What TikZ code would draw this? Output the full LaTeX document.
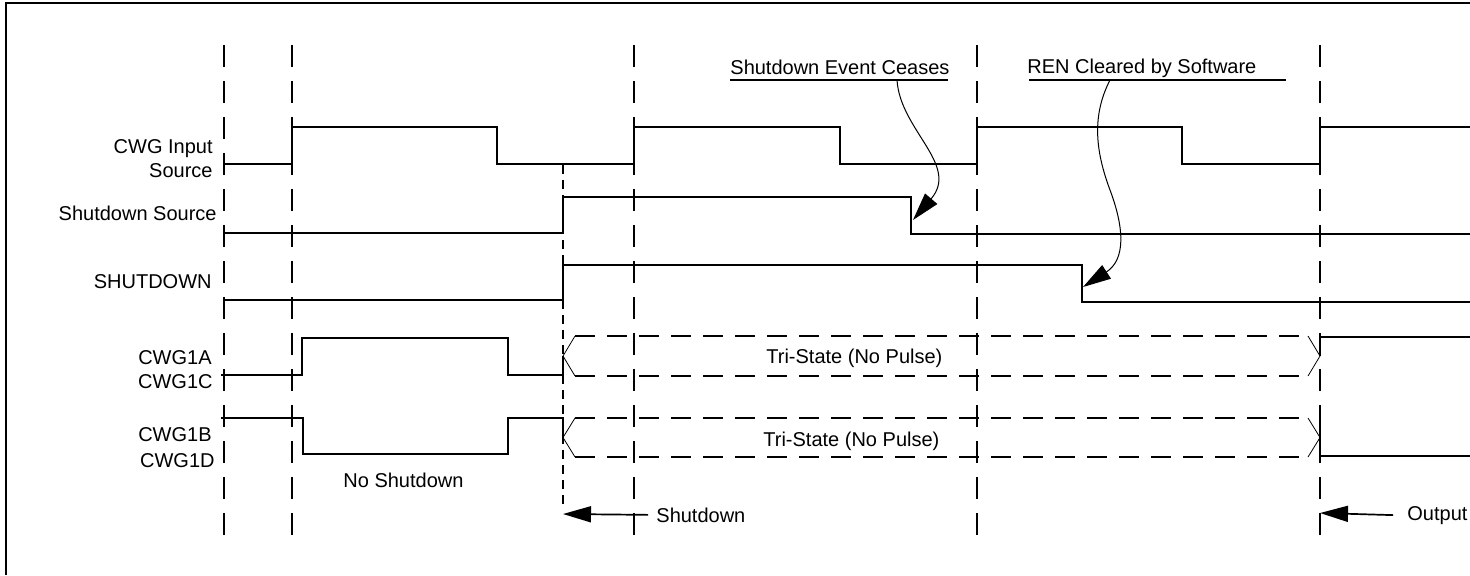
\documentclass[tikz,border=0pt]{standalone}
\usepackage{fontspec}
\setmainfont{Liberation Sans}
\usetikzlibrary{arrows.meta}

\begin{document}
\begin{tikzpicture}[x=0.5pt, y=-0.5pt, >={Triangle[length=14pt,width=8pt]},
		font=\fontsize{10}{12}\selectfont,
		sig/.style={line width=0.85pt},
		grid/.style={line width=0.85pt, dash pattern=on 11pt off 7pt},
		finegrid/.style={line width=0.8pt, dash pattern=on 4.5pt off 3pt},
		tri/.style={line width=0.75pt, dash pattern=on 10pt off 6pt},
		slant/.style={line width=0.4pt},
		note/.style={line width=0.5pt},
		lbl/.style={anchor=base east, inner sep=0pt},
		txt/.style={anchor=base west, inner sep=0pt}]
	\useasboundingbox (0,0) rectangle (1470,575);
	\draw[line width=1.1pt] (6,575) -- (6,3) -- (1470,3);
	% time markers
	\foreach \x in {224, 292, 634, 977, 1320} {
		\draw[grid] (\x,45) -- (\x,543);
	}
	\draw[finegrid] (563,165) -- (563,505);
	% signal names
	\node[lbl] (cwgin) at (213,153) {CWG Input};
	\node[lbl] (cwgsrc) at (213,177) {Source};
	\node[lbl] (sdsrc) at (217,220) {Shutdown Source};
	\node[lbl] (sdn) at (212,288) {SHUTDOWN};
	\node[lbl] (outa) at (212,364) {CWG1A};
	\node[lbl] (outc) at (213,388) {CWG1C};
	\node[lbl] (outb) at (212,441) {CWG1B};
	\node[lbl] (outd) at (215,467) {CWG1D};
	% waveforms
	\draw[sig] (224,164) -- (292,164) -- (292,127) -- (497,127) -- (497,164) -- (634,164) -- (634,127)
		-- (840,127) -- (840,164) -- (977,164) -- (977,127) -- (1182,127) -- (1182,164) -- (1320,164)
		-- (1320,127) -- (1470,127);
	\draw[sig] (224,233) -- (563,233) -- (563,197) -- (911,197) -- (911,234) -- (1470,234);
	\draw[sig] (224,300) -- (563,300) -- (563,265) -- (1082,265) -- (1082,302) -- (1470,302);
	\draw[sig] (221,375) -- (302,375) -- (302,338) -- (508,338) -- (508,375) -- (563,375) -- (563,356);
	\draw[sig] (1320,356) -- (1320,337) -- (1470,337);
	\draw[sig] (221,418) -- (303,418) -- (303,454) -- (508,454) -- (508,418) -- (563,418) -- (563,437);
	\draw[sig] (1320,420) -- (1320,456) -- (1470,456);
	% tri-state buses
	\foreach \t/\b in {336/376, 418/457} {
		\draw[slant] (575,\t) -- (563,{(\t+\b)/2}) -- (575,\b);
		\draw[slant] (1308,\t) -- (1320,{(\t+\b)/2}) -- (1308,\b);
		\draw[tri] (575,\t) -- (1308,\t);
		\draw[tri] (575,\b) -- (1308,\b);
	}
	\node[txt] (tria) at (766,363) {Tri-State (No Pulse)};
	\node[txt] (trib) at (763,446) {Tri-State (No Pulse)};
	\node[txt] (nosd) at (343,487) {No Shutdown};
	% phase arrows
	\coordinate (sdtip) at (563,514);
	\coordinate (outtip) at (1320,513);
	\node[txt] (sdlbl) at (656,522) {Shutdown};
	\node[txt] (outlbl) at (1407,520) {Output};
	\draw[sig, ->] ([xshift=-4pt]sdlbl.west) -- (sdtip);
	\draw[sig, ->] ([xshift=-7pt]outlbl.west) -- (outtip);
	% callouts
	\node[txt] (cease) at (730,74) {Shutdown Event Ceases};
	\node[txt] (ren) at (1027,73) {REN Cleared by Software};
	\draw[sig] (730,80) -- (948,80);
	\draw[sig] (1029,80) -- (1286,80);
	\coordinate (ceasefoot) at (897,80);
	\coordinate (ceasetip) at (913,220);
	\coordinate (renfoot) at (1110,80);
	\coordinate (rentip) at (1083,287);
	\draw[note, ->] (ceasefoot) .. controls (900,130) and (960,165) .. (ceasetip);
	\draw[note] (renfoot) .. controls (1092,115) and (1095,150) .. (1110,190);
	\draw[note, ->] (1110,190) .. controls (1125,230) and (1125,260) .. (rentip);
\end{tikzpicture}
\end{document}
